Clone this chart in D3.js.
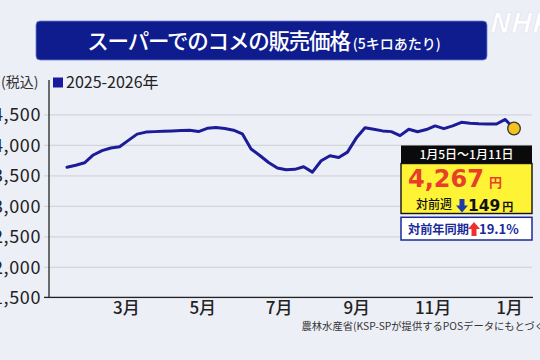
<!DOCTYPE html>
<html><head><meta charset="utf-8">
<script src="https://cdn.jsdelivr.net/npm/d3@7"></script>
<style>
html,body{margin:0;padding:0;background:#edeff7;}
svg{display:block;}
text{font-family:"Noto Sans CJK JP","Noto Sans",sans-serif;}
</style></head>
<body>
<svg id="c" width="540" height="360"></svg>
<script>
// ---- data ----
const firstWeek = new Date(2025, 0, 13);   // week of Jan 13, 2025
const prices = [3632,3665,3705,3833,3905,3948,3968,4072,4175,4208,4216,4222,4226,4233,4240,4217,
  4270,4285,4268,4240,4180,3930,3825,3710,3620,3592,3598,3640,3552,3738,3820,3792,3880,4110,
  4280,4255,4228,4216,4150,4255,4215,4250,4310,4265,4310,4368,4352,4345,4343,4341,4416,4267];
const monthTicks = [new Date(2025,2,1), new Date(2025,4,1), new Date(2025,6,1), new Date(2025,8,1), new Date(2025,10,1), new Date(2026,0,1)];
const yTicks = [1500,2000,2500,3000,3500,4000,4500];
const seriesName = "2025-2026年";
const latestLabel = "1月5日〜1月11日";
const yoyChange = "19.1%";

const weeks = prices.map((v,i)=>({date:d3.timeWeek.offset(firstWeek,i), value:v}));

const svg = d3.select("#c");

// title
svg.append("rect").attr("x",36).attr("y",21).attr("width",451).attr("height",39).attr("rx",4)
  .attr("fill","#0e1c8e").attr("stroke","#6e7fd6").attr("stroke-width",0.8);
const tt = svg.append("text").attr("x",264).attr("y",48.5).attr("text-anchor","middle").attr("fill","#fff");
tt.append("tspan").attr("font-size",21.5).attr("font-weight",500).attr("letter-spacing",-1.2).text("スーパーでのコメの販売価格");
tt.append("tspan").attr("font-size",14).attr("font-weight",500).attr("dx",3).text("(5キロあたり)");

// NHK mark
svg.append("text").attr("x",488).attr("y",33).attr("font-family","DejaVu Sans").attr("font-weight","bold")
  .attr("font-style","italic").attr("font-size",28).attr("fill","#ffffff").attr("stroke","#dde0ec").attr("stroke-width",0.6).text("NHK");

// scales
const x = d3.scaleTime().domain([weeks[0].date, weeks[weeks.length-1].date]).range([67,514]);
const y = d3.scaleLinear().domain([1500,5000]).range([297.3,83.8]);

// grid + y labels
const gy = svg.append("g").attr("transform","translate(532,0)")
  .call(d3.axisLeft(y).tickValues(yTicks).tickFormat(d3.format(",")).tickSize(488).tickPadding(3));
gy.select(".domain").remove();
gy.selectAll(".tick line").attr("stroke","#d3d4dc").attr("stroke-width",1.3);
gy.selectAll(".tick text").attr("fill","#222").attr("font-size",18).attr("letter-spacing",0.6)
  .attr("font-family","Roboto,'Noto Sans',sans-serif").attr("dy","0.36em");

// axes lines
svg.append("line").attr("x1",49).attr("x2",49).attr("y1",80).attr("y2",y(1500)).attr("stroke","#222").attr("stroke-width",1.3);
svg.append("line").attr("x1",44).attr("x2",533).attr("y1",y(1500)).attr("y2",y(1500)).attr("stroke","#222").attr("stroke-width",1.3);

// x labels
const gx = svg.append("g").attr("transform",`translate(0,${y(1500)})`)
  .call(d3.axisBottom(x).tickValues(monthTicks).tickFormat(d=>(d.getMonth()+1)+"月").tickSize(0).tickPadding(5));
gx.select(".domain").remove();
gx.selectAll(".tick text").attr("fill","#222").attr("font-size",17).attr("font-weight",500).attr("dy","0.71em");

// unit + legend
svg.append("text").attr("x",1).attr("y",87).attr("font-size",14).attr("fill","#333").text("(税込)");
svg.append("rect").attr("x",53).attr("y",77.5).attr("width",10).attr("height",10).attr("fill","#1a1aa0");
svg.append("text").attr("x",66).attr("y",88).attr("font-size",16).attr("fill","#222")
  .attr("font-family","Roboto,'Noto Sans CJK JP',sans-serif").text(seriesName);

// line
svg.append("path").datum(weeks).attr("fill","none").attr("stroke","#1c1c98").attr("stroke-width",3)
  .attr("stroke-linejoin","round").attr("stroke-linecap","round")
  .attr("d", d3.line().x(d=>x(d.date)).y(d=>y(d.value)));
const last = weeks[weeks.length-1], prev = weeks[weeks.length-2];
svg.append("circle").attr("cx",x(last.date)).attr("cy",y(last.value)).attr("r",6.3)
  .attr("fill","#f3c31c").attr("stroke","#333").attr("stroke-width",1.3);

// info box
const bx = 401, bw = 131;
svg.append("rect").attr("x",bx).attr("y",145.5).attr("width",bw).attr("height",18).attr("fill","#0a0a0a");
svg.append("text").attr("x",bx+bw/2).attr("y",159).attr("text-anchor","middle").attr("fill","#fff")
  .attr("font-size",12).attr("font-weight",500).text(latestLabel);
svg.append("rect").attr("x",bx).attr("y",163.5).attr("width",bw).attr("height",50).attr("fill","#fff336")
  .attr("stroke","#111").attr("stroke-width",1.4);
const pt = svg.append("text").attr("x",bx+54).attr("y",186.5).attr("text-anchor","middle").attr("fill","#ea3d2a");
pt.append("tspan").attr("font-family","DejaVu Sans").attr("font-weight","bold").attr("font-size",24).text(d3.format(",")(last.value));
pt.append("tspan").attr("font-size",13).attr("font-weight","bold").attr("dx",5).text("円");
svg.append("text").attr("x",416).attr("y",209).attr("font-size",12).attr("font-weight",500).attr("fill","#111").text("対前週");
// blue down arrow
svg.append("path").attr("d","M459.5,199 h5 v6.5 h3.5 l-6,7 l-6,-7 h3.5 z").attr("fill","#1f3aa8");
const ct = svg.append("text").attr("x",468).attr("y",210.5).attr("fill","#111");
ct.append("tspan").attr("font-family","DejaVu Sans").attr("font-weight","bold").attr("font-size",15.5).text(prev.value-last.value);
ct.append("tspan").attr("font-size",11).attr("font-weight","bold").attr("dx",2).text("円");

svg.append("rect").attr("x",bx).attr("y",217.3).attr("width",bw).attr("height",22.7).attr("fill","#fff")
  .attr("stroke","#1a2a9c").attr("stroke-width",1.5);
svg.append("text").attr("x",408).attr("y",234).attr("font-size",12.2).attr("font-weight","bold").attr("fill","#1a2a9c").text("対前年同期");
// red up arrow
svg.append("path").attr("d","M471.5,236 h5 v-7 h3.5 l-6,-7 l-6,7 h3.5 z").attr("fill","#ee3030");
svg.append("text").attr("x",479).attr("y",234).attr("font-family","DejaVu Sans").attr("font-weight","bold")
  .attr("font-size",13).attr("fill","#1a2a9c").text(yoyChange);

// source
svg.append("text").attr("x",301.5).attr("y",330).attr("font-size",10.3).attr("fill","#333")
  .text("農林水産省(KSP-SPが提供するPOSデータにもとづく)");
</script>
</body></html>
